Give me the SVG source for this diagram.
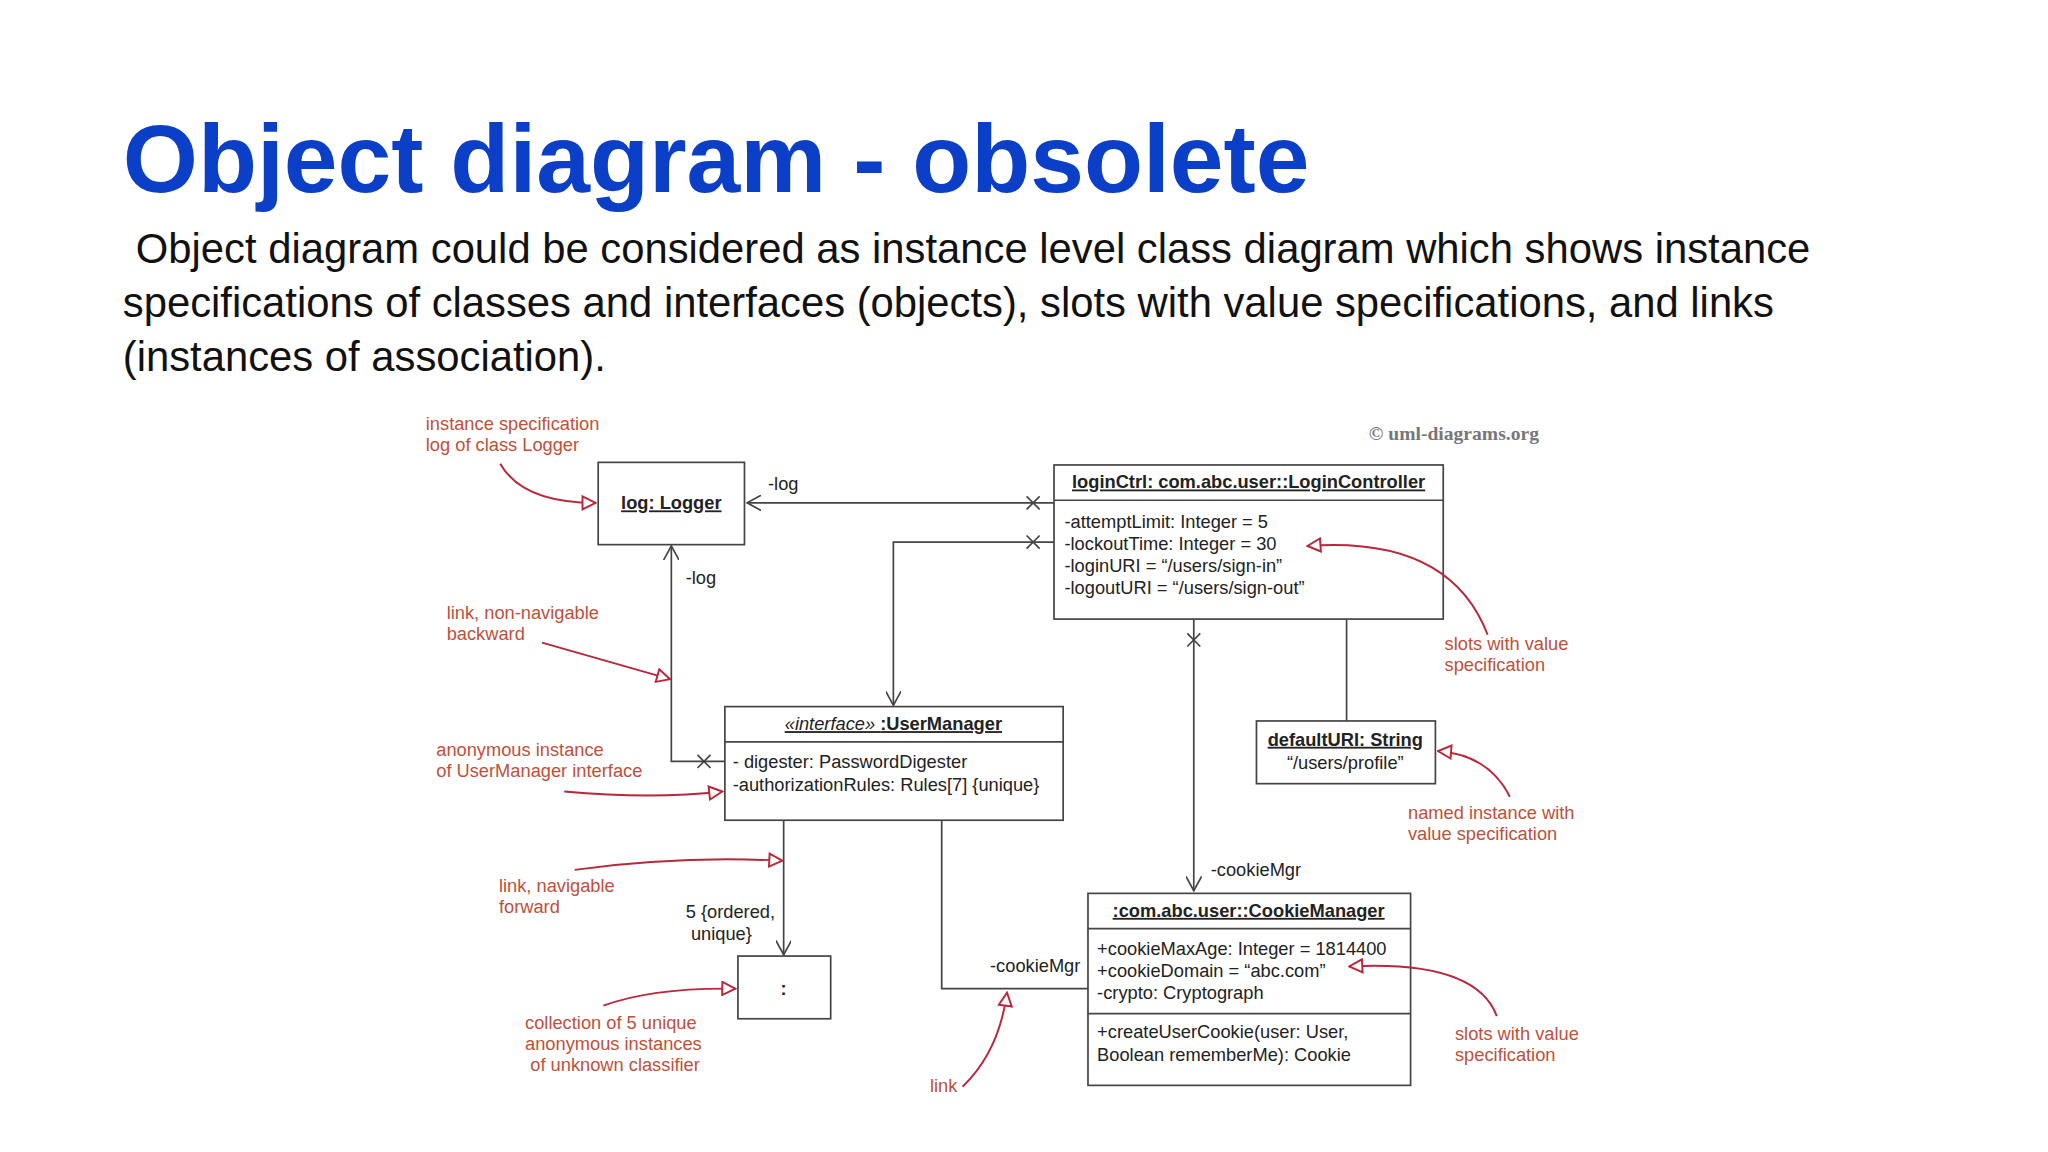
<svg xmlns="http://www.w3.org/2000/svg" width="2048" height="1152" viewBox="0 0 2048 1152">
<defs>
<style>
.t{font-family:"Liberation Sans",Arial,sans-serif;fill:#222;font-size:14px}
.u{text-decoration:underline;font-weight:bold}
.r{font-family:"Liberation Sans",Arial,sans-serif;fill:#c0503a;font-size:14px}
.b{fill:#fff;stroke:#444;stroke-width:1.3}
.l{fill:none;stroke:#444;stroke-width:1.3}
.a{fill:none;stroke:#b8283a;stroke-width:1.5}
</style>
<marker id="op" markerWidth="12" markerHeight="12" refX="11" refY="6" orient="auto" markerUnits="userSpaceOnUse"><path d="M0,0 L11,6 L0,12" fill="none" stroke="#444" stroke-width="1.3"/></marker>
<marker id="rt" markerWidth="12" markerHeight="12" refX="11" refY="6" orient="auto" markerUnits="userSpaceOnUse"><path d="M1,1 L11,6 L1,11 Z" fill="#fff" stroke="#b8283a" stroke-width="1.5"/></marker>
</defs>
<rect width="2048" height="1152" fill="#fff"/>
<g transform="scale(1.3061)">
<text x="94" y="147" font-family="Liberation Sans,Arial,sans-serif" font-weight="bold" font-size="74" fill="#0b3fc8">Object diagram - obsolete</text>
<g font-family="Liberation Sans,Arial,sans-serif" font-size="32" fill="#111">
<text x="104" y="201">Object diagram could be considered as instance level class diagram which shows instance</text>
<text x="94" y="243">specifications of classes and interfaces (objects), slots with value specifications, and links</text>
<text x="94" y="284">(instances of association).</text>
</g>
<text x="1048" y="337" font-family="Liberation Serif,serif" font-size="15" fill="#777" font-weight="bold">© uml-diagrams.org</text>

<g id="connectors">
<path class="l" d="M807,385 H572" marker-end="url(#op)"/>
<path class="l" d="M786,380 l10,10 M796,380 l-10,10"/>
<path class="l" d="M807,415 H684 V540" marker-end="url(#op)"/>
<path class="l" d="M786,410 l10,10 M796,410 l-10,10"/>
<path class="l" d="M555,583 H514 V418" marker-end="url(#op)"/>
<path class="l" d="M534,578 l10,10 M544,578 l-10,10"/>
<path class="l" d="M914,474 V682" marker-end="url(#op)"/>
<path class="l" d="M909,485 l10,10 M919,485 l-10,10"/>
<path class="l" d="M1031,474 V552"/>
<path class="l" d="M600,628 V731" marker-end="url(#op)"/>
<path class="l" d="M721,628 V757 H833"/>
</g>
<g class="t">
<text x="588" y="375">-log</text>
<text x="525" y="447">-log</text>
<text x="927" y="671">-cookieMgr</text>
<text x="758" y="744">-cookieMgr</text>
<text x="525" y="703">5 {ordered,</text>
<text x="529" y="720">unique}</text>
</g>

<g id="logger"><rect class="b" x="458" y="354" width="112" height="63"/><text class="t u" x="514" y="390" text-anchor="middle">log: Logger</text></g>
<g id="loginCtrl"><rect class="b" x="807" y="356" width="298" height="118"/><line class="l" x1="807" y1="383" x2="1105" y2="383"/>
<text class="t u" x="956" y="374" text-anchor="middle">loginCtrl: com.abc.user::LoginController</text>
<text class="t" x="815" y="404">-attemptLimit: Integer = 5</text>
<text class="t" x="815" y="421">-lockoutTime: Integer = 30</text>
<text class="t" x="815" y="438">-loginURI = “/users/sign-in”</text>
<text class="t" x="815" y="455">-logoutURI = “/users/sign-out”</text></g>
<g id="userManager"><rect class="b" x="555" y="541" width="259" height="87"/><line class="l" x1="555" y1="568" x2="814" y2="568"/>
<text class="t" x="684" y="559" text-anchor="middle" text-decoration="underline"><tspan font-style="italic">«interface»</tspan> <tspan font-weight="bold">:UserManager</tspan></text>
<text class="t" x="561" y="588">- digester: PasswordDigester</text>
<text class="t" x="561" y="606">-authorizationRules: Rules[7] {unique}</text></g>
<g id="defaultURI"><rect class="b" x="962" y="552" width="137" height="48"/>
<text class="t u" x="1030" y="571" text-anchor="middle">defaultURI: String</text>
<text class="t" x="1030" y="589" text-anchor="middle">“/users/profile”</text></g>
<g id="collection"><rect class="b" x="565" y="732" width="71" height="48"/><text class="t" x="600" y="762" text-anchor="middle" font-weight="bold">:</text></g>
<g id="cookieMgr"><rect class="b" x="833" y="684" width="247" height="147"/><line class="l" x1="833" y1="711" x2="1080" y2="711"/><line class="l" x1="833" y1="776" x2="1080" y2="776"/>
<text class="t u" x="956" y="702" text-anchor="middle">:com.abc.user::CookieManager</text>
<text class="t" x="840" y="731">+cookieMaxAge: Integer = 1814400</text>
<text class="t" x="840" y="748">+cookieDomain = “abc.com”</text>
<text class="t" x="840" y="765">-crypto: Cryptograph</text>
<text class="t" x="840" y="795">+createUserCookie(user: User,</text>
<text class="t" x="840" y="812">Boolean rememberMe): Cookie</text></g>

<g id="annotations">
<text class="r" x="326" y="329">instance specification</text><text class="r" x="326" y="345">log of class Logger</text>
<path class="a" d="M383,355 Q400,385 456,385" marker-end="url(#rt)"/>
<text class="r" x="342" y="474">link, non-navigable</text><text class="r" x="342" y="490">backward</text>
<path class="a" d="M415,492 L513,520" marker-end="url(#rt)"/>
<text class="r" x="334" y="579">anonymous instance</text><text class="r" x="334" y="595">of UserManager interface</text>
<path class="a" d="M432,606 Q500,612 553,606" marker-end="url(#rt)"/>
<text class="r" x="382" y="683">link, navigable</text><text class="r" x="382" y="699">forward</text>
<path class="a" d="M440,666 Q520,655 599,659" marker-end="url(#rt)"/>
<text class="r" x="402" y="788">collection of 5 unique</text><text class="r" x="402" y="804">anonymous instances</text><text class="r" x="406" y="820">of unknown classifier</text>
<path class="a" d="M462,770 Q500,756 563,757" marker-end="url(#rt)"/>
<text class="r" x="712" y="836">link</text>
<path class="a" d="M737,832 Q765,805 771,760" marker-end="url(#rt)"/>
<text class="r" x="1106" y="498">slots with value</text><text class="r" x="1106" y="514">specification</text>
<path class="a" d="M1139,486 Q1110,410 1001,418" marker-end="url(#rt)"/>
<text class="r" x="1078" y="627">named instance with</text><text class="r" x="1078" y="643">value specification</text>
<path class="a" d="M1156,610 Q1140,578 1101,575" marker-end="url(#rt)"/>
<text class="r" x="1114" y="796">slots with value</text><text class="r" x="1114" y="812">specification</text>
<path class="a" d="M1146,778 Q1130,735 1033,740" marker-end="url(#rt)"/>
</g>
</g>
</svg>
